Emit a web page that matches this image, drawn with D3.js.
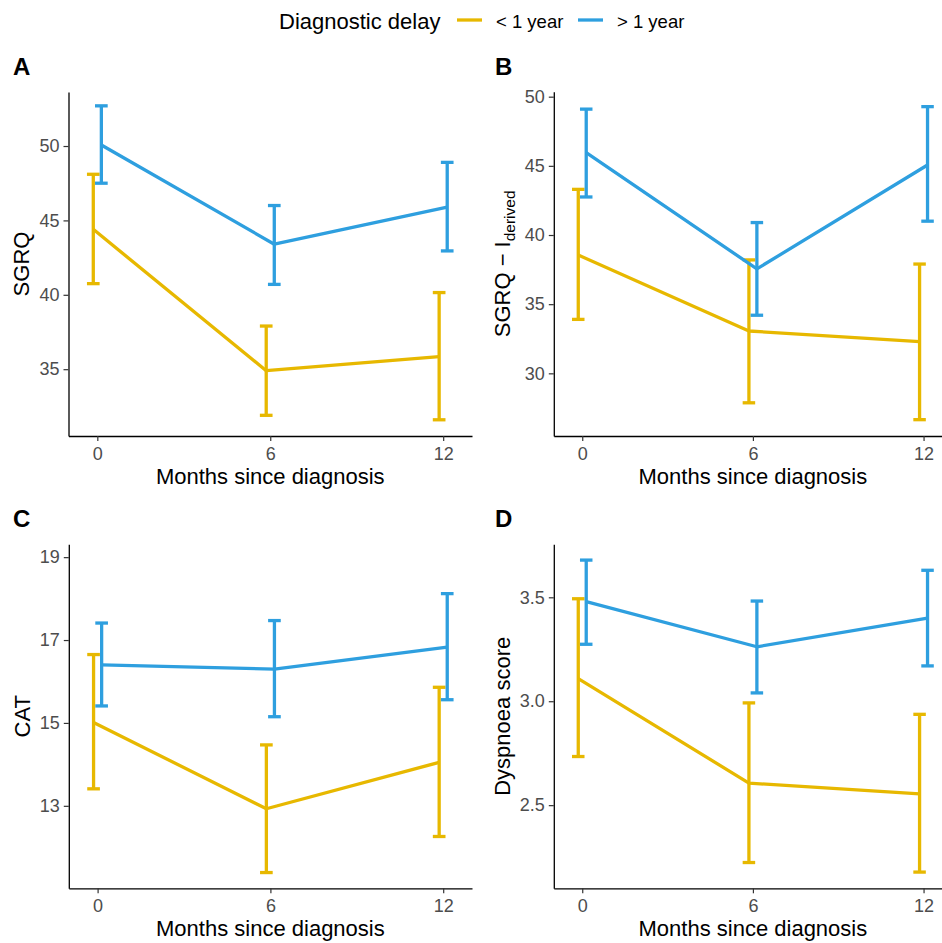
<!DOCTYPE html>
<html>
<head>
<meta charset="utf-8">
<script src="https://cdn.jsdelivr.net/npm/d3@7/dist/d3.min.js"></script>
<style>
  html, body { margin: 0; padding: 0; background: #fff; }
  svg { display: block; font-family: "Liberation Sans", Arial, Helvetica, sans-serif; }
</style>
</head>
<body>
<svg id="chart" width="942" height="943"></svg>
<script>
// ---- Data ----
const months = [0, 6, 12];
const groups = ["< 1 year", "> 1 year"];
const colors = ["#E7B800", "#2E9FDF"];

// Panel A: SGRQ
const sgrqShortMean  = [44.4, 34.9, 35.85];
const sgrqShortLower = [40.75, 31.9, 31.6];
const sgrqShortUpper = [48.1, 37.9, 40.15];
const sgrqLongMean   = [50.07, 43.4, 45.9];
const sgrqLongLower  = [47.5, 40.7, 42.95];
const sgrqLongUpper  = [52.7, 46.0, 48.9];

// Panel B: SGRQ - I derived
const sgrqiShortMean  = [38.55, 33.06, 32.3];
const sgrqiShortLower = [33.9, 27.87, 26.65];
const sgrqiShortUpper = [43.3, 38.2, 37.9];
const sgrqiLongMean   = [45.95, 37.55, 45.06];
const sgrqiLongLower  = [42.75, 34.2, 41.0];
const sgrqiLongUpper  = [49.1, 40.9, 49.28];

// Panel C: CAT
const catShortMean  = [15.01, 12.93, 14.05];
const catShortLower = [13.41, 11.39, 12.26];
const catShortUpper = [16.65, 14.47, 15.86];
const catLongMean   = [16.40, 16.30, 16.83];
const catLongLower  = [15.41, 15.15, 15.56];
const catLongUpper  = [17.41, 17.47, 18.12];

// Panel D: Dyspnoea score
const dysShortMean  = [3.109, 2.606, 2.554];
const dysShortLower = [2.734, 2.224, 2.178];
const dysShortUpper = [3.493, 2.992, 2.937];
const dysLongMean   = [3.479, 3.262, 3.40];
const dysLongLower  = [3.274, 3.04, 3.17];
const dysLongUpper  = [3.679, 3.482, 3.63];

// Tick labels
const xTicks = [0, 6, 12];
const ticksA = [35, 40, 45, 50];
const ticksB = [30, 35, 40, 45, 50];
const ticksC = [13, 15, 17, 19];
const ticksD = [2.5, 3.0, 3.5];

// ---- Layout ----
const svg = d3.select("#chart");
const FONT_TICK = 18, FONT_TITLE = 22;

const panels = [
  { label: "A", title: "SGRQ", left: 68.5, right: 472, top: 92, bottom: 436,
    ydom: [30.51, 53.63], ticks: ticksA, fmt: d3.format("d"), labX: 13, labY: 75, titleX: 29,
    data: [[sgrqShortMean, sgrqShortLower, sgrqShortUpper], [sgrqLongMean, sgrqLongLower, sgrqLongUpper]] },
  { label: "B", title: "SGRQ \u2212 I", sub: "derived", left: 553.8, right: 952, top: 91.7, bottom: 436,
    ydom: [25.47, 50.36], ticks: ticksB, fmt: d3.format("d"), labX: 495, labY: 75, titleX: 510,
    data: [[sgrqiShortMean, sgrqiShortLower, sgrqiShortUpper], [sgrqiLongMean, sgrqiLongLower, sgrqiLongUpper]] },
  { label: "C", title: "CAT", left: 68.8, right: 472, top: 544.3, bottom: 888.3,
    ydom: [11.01, 19.31], ticks: ticksC, fmt: d3.format("d"), labX: 13, labY: 527, titleX: 29.5,
    data: [[catShortMean, catShortLower, catShortUpper], [catLongMean, catLongLower, catLongUpper]] },
  { label: "D", title: "Dyspnoea score", left: 553.8, right: 952, top: 544.3, bottom: 888.3,
    ydom: [2.10, 3.755], ticks: ticksD, fmt: d3.format(".1f"), labX: 495, labY: 527, titleX: 509.5,
    data: [[dysShortMean, dysShortLower, dysShortUpper], [dysLongMean, dysLongLower, dysLongUpper]] }
];

const dodge = 0.14, capHalf = 0.22, LW = 3.3;

panels.forEach(p => {
  const x = d3.scaleLinear().domain([-1, 13]).range([p.left, p.right]);
  const y = d3.scaleLinear().domain(p.ydom).range([p.bottom, p.top]);
  const g = svg.append("g");

  // axes
  const ax = g.append("g").attr("transform", `translate(0,${p.bottom})`)
    .call(d3.axisBottom(x).tickValues(xTicks).tickSize(5).tickPadding(6).tickSizeOuter(0));
  const ay = g.append("g").attr("transform", `translate(${p.left},0)`)
    .call(d3.axisLeft(y).tickValues(p.ticks).tickFormat(p.fmt).tickSize(5).tickPadding(4).tickSizeOuter(0));
  [ax, ay].forEach(a => {
    a.select(".domain").attr("stroke", "#000").attr("stroke-width", 1.3);
    a.selectAll(".tick line").attr("stroke", "#333").attr("stroke-width", 1.2);
    a.selectAll(".tick text").attr("fill", "#4d4d4d").style("font-size", FONT_TICK + "px")
      .style("font-family", "'Liberation Sans', Arial, Helvetica, sans-serif");
  });

  // series
  p.data.forEach((ser, gi) => {
    const [mean, lo, hi] = ser;
    const off = gi === 0 ? -dodge : dodge;
    const pts = months.map((m, i) => ({ m: m + off, mean: mean[i], lo: lo[i], hi: hi[i] }));
    const col = colors[gi];
    // error bars
    const eb = g.append("g").attr("stroke", col).attr("stroke-width", LW).attr("fill", "none");
    pts.forEach(d => {
      eb.append("line").attr("x1", x(d.m)).attr("x2", x(d.m)).attr("y1", y(d.lo)).attr("y2", y(d.hi));
      eb.append("line").attr("x1", x(d.m - capHalf)).attr("x2", x(d.m + capHalf)).attr("y1", y(d.lo)).attr("y2", y(d.lo));
      eb.append("line").attr("x1", x(d.m - capHalf)).attr("x2", x(d.m + capHalf)).attr("y1", y(d.hi)).attr("y2", y(d.hi));
    });
    // line
    g.append("path").datum(pts)
      .attr("fill", "none").attr("stroke", col).attr("stroke-width", LW).attr("stroke-linejoin", "round")
      .attr("d", d3.line().x(d => x(d.m)).y(d => y(d.mean)));
  });

  // x title, centred under the middle tick
  g.append("text").attr("x", x(6))
    .attr("y", p.bottom + 47.5).attr("text-anchor", "middle")
    .style("font-size", FONT_TITLE + "px").attr("fill", "#000").text("Months since diagnosis");

  // y title
  const cy = (p.top + p.bottom) / 2;
  const yt = g.append("text").attr("transform", `translate(${p.titleX},${cy}) rotate(-90)`)
    .attr("text-anchor", "middle").style("font-size", FONT_TITLE + "px").attr("fill", "#000");
  yt.append("tspan").text(p.title);
  if (p.sub) {
    yt.append("tspan").attr("dy", 5).style("font-size", "15.5px").text(p.sub);
  }

  // panel label
  g.append("text").attr("x", p.labX).attr("y", p.labY)
    .style("font-size", "24px").style("font-weight", "bold").attr("fill", "#000").text(p.label);
});

// ---- Legend ----
const leg = svg.append("g");
leg.append("text").attr("x", 279).attr("y", 29).style("font-size", FONT_TITLE + "px").attr("fill", "#000")
  .text("Diagnostic delay");
const legX = [457, 578];
groups.forEach((gname, i) => {
  leg.append("line").attr("x1", legX[i]).attr("x2", legX[i] + 25).attr("y1", 20).attr("y2", 20)
    .attr("stroke", colors[i]).attr("stroke-width", LW);
  leg.append("text").attr("x", legX[i] + 39).attr("y", 28).style("font-size", "18.5px").attr("fill", "#000")
    .text(gname);
});
</script>
</body>
</html>
